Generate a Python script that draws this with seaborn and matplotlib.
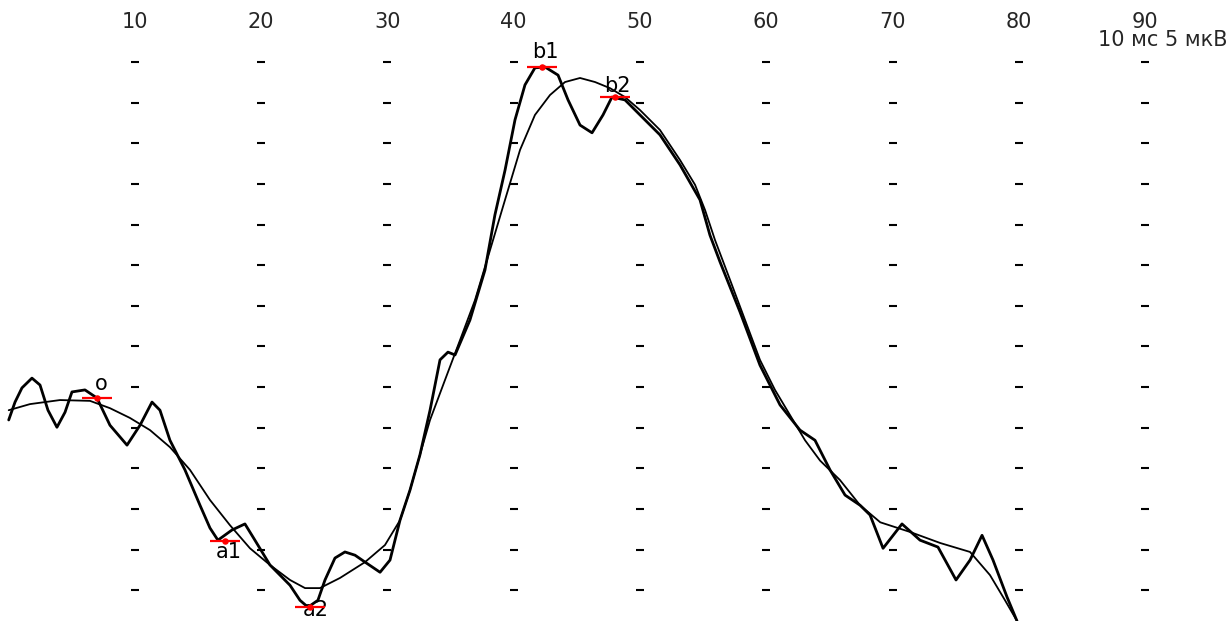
import matplotlib
matplotlib.use("Agg")
import matplotlib.pyplot as plt
import pandas as pd
import seaborn as sns

# time axis ticks (ms) and grid rows (uV)
tick_ms = [10, 20, 30, 40, 50, 60, 70, 80, 90]
grid_rows = [8, 7, 6, 5, 4, 3, 2, 1, 0, -1, -2, -3, -4, -5]

# raw response with oscillations
raw_t = [0.0, 0.50, 1.05, 1.84, 2.48, 3.11, 3.82, 4.46, 5.01, 6.04, 6.99, 8.02,
         9.37, 10.40, 11.35, 11.98, 12.77, 13.96, 15.15, 15.94, 16.57, 17.68,
         18.71, 19.50, 20.69, 22.28, 23.07, 23.70, 24.49, 25.05, 25.84, 26.63,
         27.43, 28.22, 29.41, 30.20, 30.99, 31.78, 32.57, 33.37, 34.16, 34.79,
         35.35, 36.53, 37.72, 38.51, 39.31, 40.10, 40.89, 41.68, 42.48, 43.51,
         44.30, 45.25, 46.20, 47.07, 47.78, 48.81, 50.00, 51.58, 53.17, 54.75,
         55.54, 56.34, 57.92, 59.50, 61.09, 62.67, 63.86, 65.05, 66.24, 67.43,
         68.22, 69.25, 70.75, 72.18, 73.60, 75.03, 76.14, 77.09, 77.96, 79.07,
         79.86]
raw_v = [-0.81, -0.37, -0.02, 0.22, 0.05, -0.57, -0.99, -0.62, -0.12, -0.07,
         -0.27, -0.94, -1.43, -0.94, -0.37, -0.57, -1.31, -2.04, -2.91, -3.47,
         -3.77, -3.52, -3.37, -3.77, -4.38, -4.88, -5.25, -5.42, -5.25, -4.75,
         -4.21, -4.06, -4.14, -4.31, -4.56, -4.26, -3.28, -2.54, -1.67, -0.57,
         0.67, 0.86, 0.79, 1.65, 2.88, 4.24, 5.34, 6.58, 7.44, 7.86, 7.88, 7.68,
         7.07, 6.45, 6.26, 6.70, 7.14, 7.07, 6.70, 6.21, 5.47, 4.61, 3.74, 3.08,
         1.85, 0.54, -0.44, -1.06, -1.31, -2.04, -2.66, -2.91, -3.15, -3.97,
         -3.37, -3.77, -3.94, -4.75, -4.26, -3.65, -4.26, -5.17, -5.76]

# filtered (smooth) response
flt_t = [0.0, 1.68, 4.06, 6.44, 8.02, 9.60, 11.19, 12.77, 14.36, 15.94, 17.52,
         19.11, 20.69, 22.28, 23.47, 24.65, 26.24, 28.22, 29.80, 30.99, 31.78,
         32.57, 33.37, 34.55, 35.75, 36.93, 38.12, 39.31, 40.50, 41.68, 42.87,
         44.06, 45.25, 46.44, 47.62, 48.81, 50.00, 51.58, 53.17, 54.36, 55.15,
         55.94, 57.13, 58.32, 59.50, 60.69, 61.88, 63.07, 64.26, 65.84, 67.43,
         69.03, 71.41, 73.78, 76.14, 77.72, 78.91, 79.86]
flt_v = [-0.57, -0.42, -0.32, -0.34, -0.52, -0.76, -1.06, -1.48, -2.04, -2.78,
         -3.40, -3.97, -4.38, -4.75, -4.95, -4.95, -4.70, -4.31, -3.89, -3.28,
         -2.54, -1.67, -0.81, 0.17, 1.16, 2.14, 3.37, 4.61, 5.84, 6.70, 7.19,
         7.51, 7.61, 7.51, 7.36, 7.14, 6.82, 6.33, 5.59, 4.98, 4.36, 3.62, 2.64,
         1.65, 0.67, -0.07, -0.69, -1.31, -1.81, -2.29, -2.91, -3.33, -3.57,
         -3.84, -4.06, -4.63, -5.25, -5.76]

# marked components
peak_names = ["o", "a1", "a2", "b1", "b2"]
peak_t = [6.99, 17.1, 23.86, 42.24, 48.02]
peak_v = [-0.27, -3.79, -5.42, 7.88, 7.14]
label_t = [7.3, 17.4, 24.3, 42.5, 48.2]
label_v = [0.07, -4.06, -5.5, 8.25, 7.41]

sns.set_style("white")
plt.rcParams['font.family'] = ['DejaVu Sans']

fig = plt.figure(figsize=(12.29, 6.21), dpi=100)
ax = fig.add_axes([0, 0, 1, 1])

# dotted grid as short dashes
grid = pd.DataFrame([(t, v) for t in tick_ms for v in grid_rows], columns=['t', 'v'])
sns.scatterplot(data=grid, x='t', y='v', marker='_', s=28, linewidth=1.5,
                color='black', ax=ax, legend=False)

raw = pd.DataFrame({'t': raw_t, 'v': raw_v})
flt = pd.DataFrame({'t': flt_t, 'v': flt_v})
sns.lineplot(data=flt, x='t', y='v', sort=False, estimator=None,
             color='black', linewidth=1.3, ax=ax)
sns.lineplot(data=raw, x='t', y='v', sort=False, estimator=None,
             color='black', linewidth=2.0, ax=ax)

# red component markers
pk = pd.DataFrame({'t': peak_t, 'v': peak_v})
sns.scatterplot(data=pk, x='t', y='v', marker='_', s=480, linewidth=1.6,
                color='red', ax=ax, legend=False, zorder=5)
sns.scatterplot(data=pk, x='t', y='v', marker='o', s=22, linewidth=0,
                color='red', ax=ax, legend=False, zorder=6)
for name, t, v in zip(peak_names, label_t, label_v):
    ax.text(t, v, name, fontsize=15, ha='center', va='center', color='black')

# time labels on top
for t in tick_ms:
    ax.text(t, 9.0, str(t), fontsize=15, ha='center', va='center')
ax.text(96.5, 8.55, "10 мс 5 мкВ", fontsize=15, ha='right', va='center')

ax.set_xlim(-0.69, 96.65)
ax.set_ylim(-5.76, 9.53)
ax.axis('off')

fig.savefig('out.png', dpi=100, facecolor='white')
